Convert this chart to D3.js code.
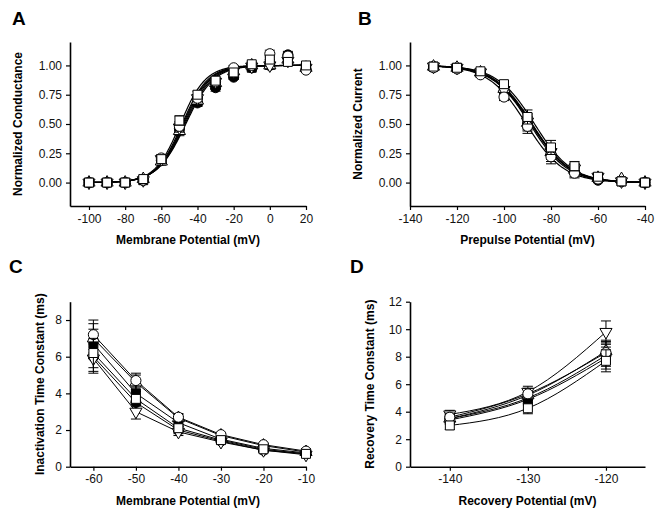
<!DOCTYPE html>
<html>
<head>
<meta charset="utf-8">
<script src="https://cdn.jsdelivr.net/npm/d3@7"></script>
<style>
  body { margin: 0; background: #fff; }
  svg { display: block; font-family: Arial, "Liberation Sans", sans-serif; }
</style>
</head>
<body>
<div id="figure"></div>
<script>
// series order (drawing order) and their marker style
const seriesNames = ["filledCircle", "filledSquare", "triUp", "triDown", "openCircle", "openSquare"];

// Panel A: conductance-voltage
const aVolts = [-100, -90, -80, -70, -60, -50, -40, -30, -20, -10, 0, 10, 20];
const aFilledCircle = [0, 0, 0, 0.02, 0.19, 0.46, 0.68, 0.81, 0.90, 0.98, 1.00, 1.09, 0.97];
const aFilledSquare = [0, 0, 0, 0.02, 0.19, 0.45, 0.69, 0.83, 0.92, 0.98, 1.02, 1.06, 0.99];
const aTriUp = [0, 0, 0, 0.03, 0.18, 0.44, 0.70, 0.85, 0.95, 1.00, 1.00, 1.05, 0.98];
const aTriDown = [0, 0, 0, 0.02, 0.20, 0.47, 0.72, 0.86, 0.95, 0.99, 1.00, 1.04, 0.98];
const aOpenCircle = [0, 0, 0, 0.02, 0.21, 0.48, 0.72, 0.86, 0.98, 1.00, 1.10, 1.08, 0.96];
const aOpenSquare = [0, 0, 0, 0.03, 0.20, 0.53, 0.75, 0.87, 0.94, 1.01, 1.05, 1.03, 1.00];
const aErr = [0.01, 0.01, 0.01, 0.01, 0.03, 0.04, 0.03, 0.03, 0.02, 0.02, 0.03, 0.03, 0.02];
// Boltzmann fit parameters, same order as seriesNames
const aHalf = [-46.5, -47, -47.5, -48, -48.5, -49.5];
const aSlope = [7.8, 7.6, 7.4, 7.3, 7.2, 7.0];
const aTicksX = [-100, -80, -60, -40, -20, 0, 20];
const normTicks = [0, 0.25, 0.5, 0.75, 1.0];

// Panel B: steady-state inactivation
const bVolts = [-130, -120, -110, -100, -90, -80, -70, -60, -50, -40];
const bFilledCircle = [0.99, 0.98, 0.93, 0.78, 0.50, 0.24, 0.09, 0.02, 0.01, 0];
const bFilledSquare = [0.99, 0.98, 0.94, 0.80, 0.53, 0.27, 0.12, 0.04, 0.01, 0];
const bTriUp = [0.99, 0.98, 0.94, 0.80, 0.51, 0.26, 0.11, 0.04, 0.03, 0];
const bTriDown = [0.99, 0.98, 0.94, 0.79, 0.52, 0.26, 0.12, 0.05, 0.01, 0];
const bOpenCircle = [0.98, 0.97, 0.92, 0.73, 0.48, 0.22, 0.08, 0.03, 0.01, 0];
const bOpenSquare = [0.99, 0.98, 0.95, 0.84, 0.56, 0.30, 0.14, 0.05, 0.01, 0];
const bErr = [0.01, 0.01, 0.02, 0.03, 0.06, 0.06, 0.04, 0.02, 0.01, 0.01];
const bHalf = [-89, -88, -88.5, -88.2, -90.5, -87];
const bSlope = [8.0, 8.0, 8.2, 8.2, 8.0, 8.0];
const bTicksX = [-140, -120, -100, -80, -60, -40];

// Panel C: inactivation time constant
const cVolts = [-60, -50, -40, -30, -20, -10];
const cFilledCircle = [6.0, 3.5, 2.0, 1.4, 0.9, 0.7];
const cFilledSquare = [6.7, 4.0, 2.4, 1.5, 1.0, 0.75];
const cTriUp = [7.0, 4.6, 2.65, 1.7, 1.15, 0.8];
const cTriDown = [5.9, 3.0, 1.9, 1.35, 0.9, 0.65];
const cOpenCircle = [7.2, 4.7, 2.7, 1.75, 1.2, 0.85];
const cOpenSquare = [6.2, 3.7, 2.1, 1.45, 0.95, 0.7];
const cErr = [0.8, 0.4, 0.2, 0.1, 0.08, 0.06];
const cTicksX = [-60, -50, -40, -30, -20, -10];
const cTicksY = [0, 2, 4, 6, 8];

// Panel D: recovery time constant
const dVolts = [-140, -130, -120];
const dFilledCircle = [3.5, 5.0, 8.1];
const dFilledSquare = [3.4, 4.9, 7.9];
const dTriUp = [3.5, 5.2, 8.4];
const dTriDown = [3.8, 5.45, 9.8];
const dOpenCircle = [3.6, 5.3, 8.3];
const dOpenSquare = [3.0, 4.25, 7.7];
const dErr = [0.3, 0.4, 0.8];
const dTicksX = [-140, -130, -120];
const dTicksY = [0, 2, 4, 6, 8, 10, 12];

const width = 661, height = 513;

const svg = d3.select("#figure")
  .append("svg")
  .attr("width", width)
  .attr("height", height);

const markerStyle = {
  filledCircle: {type: d3.symbolCircle, fill: "#000", rot: 0, size: 80},
  filledSquare: {type: d3.symbolSquare, fill: "#000", rot: 0, size: 80},
  triUp: {type: d3.symbolTriangle, fill: "#fff", rot: 0, size: 64},
  triDown: {type: d3.symbolTriangle, fill: "#fff", rot: 180, size: 64},
  openCircle: {type: d3.symbolCircle, fill: "#fff", rot: 0, size: 80},
  openSquare: {type: d3.symbolSquare, fill: "#fff", rot: 0, size: 80}
};

// plain hyphen instead of d3's unicode minus
const plainNum = d => String(d);

function drawPanel(p) {
  const g = svg.append("g");
  const x = d3.scaleLinear().domain(p.xDomain).range([p.x0, p.x1]);
  const y = d3.scaleLinear().domain(p.yDomain).range([p.y1, p.y0]);

  // axes
  const xAxis = g.append("g")
    .attr("transform", `translate(0, ${p.y1})`)
    .call(d3.axisBottom(x).tickValues(p.xTicks).tickFormat(plainNum).tickSize(4).tickSizeOuter(0).tickPadding(4));
  const yAxis = g.append("g")
    .attr("transform", `translate(${p.x0}, 0)`)
    .call(d3.axisLeft(y).tickValues(p.yTicks).tickFormat(p.yFormat).tickSize(4).tickSizeOuter(0).tickPadding(4));
  [xAxis, yAxis].forEach(a => {
    a.select(".domain").attr("stroke", "#000").attr("stroke-width", 1.6);
    a.selectAll(".tick line").attr("stroke", "#000").attr("stroke-width", 1.2);
    a.selectAll("text").attr("fill", "#111").style("font-size", "12px");
  });

  // titles
  g.append("text")
    .attr("x", (p.x0 + p.x1) / 2)
    .attr("y", p.y1 + 38)
    .attr("text-anchor", "middle")
    .style("font-size", "12px")
    .style("font-weight", "bold")
    .text(p.xTitle);
  g.append("text")
    .attr("transform", `translate(${p.yTitleX}, ${(p.y0 + p.y1) / 2}) rotate(-90)`)
    .attr("text-anchor", "middle")
    .attr("dy", "0.35em")
    .style("font-size", "12px")
    .style("font-weight", "bold")
    .text(p.yTitle);
  g.append("text")
    .attr("x", p.letterX)
    .attr("y", p.letterY)
    .style("font-size", "19px")
    .style("font-weight", "bold")
    .text(p.letter);

  // lines: either fitted curves or connections through the data
  seriesNames.forEach((name, i) => {
    let pts;
    if (p.fit) {
      pts = d3.range(p.xs[0], p.xs[p.xs.length - 1] + 0.01, 0.5).map(v => [v, p.fit(v, i)]);
    } else {
      pts = p.xs.map((v, j) => [v, p.series[i][j]]);
    }
    g.append("path")
      .datum(pts)
      .attr("fill", "none")
      .attr("stroke", "#000")
      .attr("stroke-width", p.lineWidth)
      .attr("d", d3.line().x(d => x(d[0])).y(d => y(d[1])).curve(p.curve));
  });

  // error bars then markers
  seriesNames.forEach((name, i) => {
    const vals = p.series[i];
    const eg = g.append("g");
    p.xs.forEach((v, j) => {
      const e = p.err[j];
      const cx = x(v);
      eg.append("line").attr("x1", cx).attr("x2", cx)
        .attr("y1", y(vals[j] - e)).attr("y2", y(vals[j] + e))
        .attr("stroke", "#000").attr("stroke-width", 1);
      [vals[j] - e, vals[j] + e].forEach(ev => {
        eg.append("line").attr("x1", cx - 5).attr("x2", cx + 5)
          .attr("y1", y(ev)).attr("y2", y(ev))
          .attr("stroke", "#000").attr("stroke-width", 1);
      });
    });
    const st = markerStyle[name];
    g.append("g").selectAll("path")
      .data(p.xs.map((v, j) => [v, vals[j]]))
      .join("path")
      .attr("transform", d => `translate(${x(d[0])}, ${y(d[1])}) rotate(${st.rot})`)
      .attr("d", d3.symbol().type(st.type).size(st.size))
      .attr("fill", st.fill)
      .attr("stroke", "#000")
      .attr("stroke-width", 1);
  });
}

drawPanel({
  letter: "A", letterX: 12, letterY: 25,
  x0: 70, x1: 306, y0: 42, y1: 206,
  xDomain: [-110.5, 20], yDomain: [-0.2, 1.2],
  xTicks: aTicksX, yTicks: normTicks, yFormat: d3.format(".2f"),
  xTitle: "Membrane Potential (mV)",
  yTitle: "Normalized Conductance", yTitleX: 18,
  xs: aVolts,
  series: [aFilledCircle, aFilledSquare, aTriUp, aTriDown, aOpenCircle, aOpenSquare],
  err: aErr,
  fit: (v, i) => 1 / (1 + Math.exp((aHalf[i] - v) / aSlope[i])),
  curve: d3.curveLinear, lineWidth: 1.2
});

drawPanel({
  letter: "B", letterX: 358, letterY: 25,
  x0: 410, x1: 645, y0: 42, y1: 206,
  xDomain: [-140, -40], yDomain: [-0.2, 1.2],
  xTicks: bTicksX, yTicks: normTicks, yFormat: d3.format(".2f"),
  xTitle: "Prepulse Potential (mV)",
  yTitle: "Normalized Current", yTitleX: 358,
  xs: bVolts,
  series: [bFilledCircle, bFilledSquare, bTriUp, bTriDown, bOpenCircle, bOpenSquare],
  err: bErr,
  fit: (v, i) => 1 / (1 + Math.exp((v - bHalf[i]) / bSlope[i])),
  curve: d3.curveLinear, lineWidth: 1.2
});

drawPanel({
  letter: "C", letterX: 9, letterY: 273,
  x0: 70, x1: 306, y0: 301.7, y1: 466.7,
  xDomain: [-65.5, -10], yDomain: [0, 9],
  xTicks: cTicksX, yTicks: cTicksY, yFormat: d3.format("d"),
  xTitle: "Membrane Potential (mV)",
  yTitle: "Inactivation Time Constant (ms)", yTitleX: 40,
  xs: cVolts,
  series: [cFilledCircle, cFilledSquare, cTriUp, cTriDown, cOpenCircle, cOpenSquare],
  err: cErr,
  fit: null,
  curve: d3.curveLinear, lineWidth: 1
});

drawPanel({
  letter: "D", letterX: 350, letterY: 273,
  x0: 410, x1: 645, y0: 301.7, y1: 466.7,
  xDomain: [-145.1, -115], yDomain: [0, 12],
  xTicks: dTicksX, yTicks: dTicksY, yFormat: d3.format("d"),
  xTitle: "Recovery Potential (mV)",
  yTitle: "Recovery Time Constant (ms)", yTitleX: 370,
  xs: dVolts,
  series: [dFilledCircle, dFilledSquare, dTriUp, dTriDown, dOpenCircle, dOpenSquare],
  err: dErr,
  fit: null,
  curve: d3.curveMonotoneX, lineWidth: 1
});
</script>
</body>
</html>
